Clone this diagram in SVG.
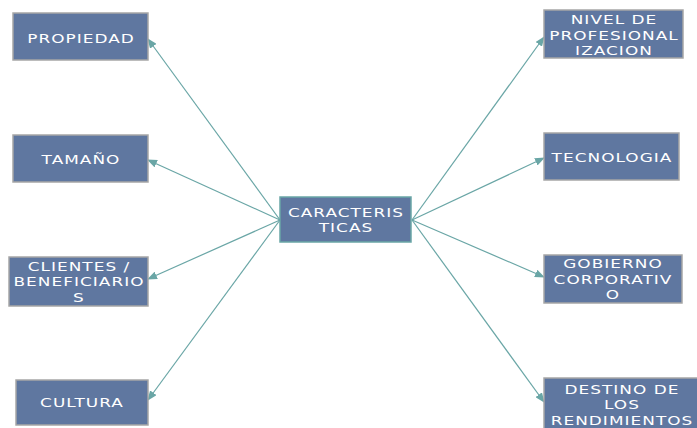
<svg xmlns="http://www.w3.org/2000/svg" width="697" height="428" viewBox="0 0 697 428">
<defs>
<marker id="ah" markerWidth="10" markerHeight="8" refX="9" refY="4" orient="auto" markerUnits="userSpaceOnUse">
<path d="M0,0 L10,4 L0,8 Z" fill="#6aa6a6"/>
</marker>
<style>
.box{fill:#5f77a0;stroke:#a6a6a6;stroke-width:1.5}
.cbox{fill:#5f77a0;stroke:#6aa6a6;stroke-width:1.5}
.t{fill:#ffffff;font-family:"DejaVu Sans",Verdana,sans-serif;font-size:13px;letter-spacing:0.8px;text-anchor:middle}
.c{stroke:#6aa6a6;stroke-width:1.2;fill:none;marker-end:url(#ah)}
</style>
</defs>
<rect width="697" height="428" fill="#ffffff"/>
<g id="connectors">
<line class="c" x1="280" y1="220" x2="148" y2="39"/>
<line class="c" x1="280" y1="220" x2="148" y2="160"/>
<line class="c" x1="280" y1="220" x2="148" y2="279"/>
<line class="c" x1="280" y1="220" x2="148" y2="400"/>
<line class="c" x1="412" y1="220" x2="544" y2="37"/>
<line class="c" x1="412" y1="220" x2="544" y2="158"/>
<line class="c" x1="412" y1="220" x2="544" y2="277"/>
<line class="c" x1="412" y1="220" x2="544" y2="402"/>
</g>
<g id="caracteristicas">
<rect class="cbox" x="280" y="197" width="131" height="45"/>
<g transform="translate(346,0) scale(1.3,1)">
<text class="t" x="0" y="217">CARACTERIS</text>
<text class="t" x="0" y="232">TICAS</text>
</g>
</g>
<g id="propiedad">
<rect class="box" x="13" y="13" width="135" height="47"/>
<g transform="translate(81,0) scale(1.3,1)"><text class="t" x="0" y="43">PROPIEDAD</text></g>
</g>
<g id="tamano">
<rect class="box" x="13" y="135" width="135" height="47"/>
<g transform="translate(81,0) scale(1.3,1)"><text class="t" x="0" y="164">TAMAÑO</text></g>
</g>
<g id="clientes">
<rect class="box" x="9" y="257" width="139" height="49"/>
<g transform="translate(79,0) scale(1.3,1)">
<text class="t" x="0" y="271">CLIENTES /</text>
<text class="t" x="0" y="286">BENEFICIARIO</text>
<text class="t" x="0" y="302">S</text>
</g>
</g>
<g id="cultura">
<rect class="box" x="16" y="380" width="132" height="45"/>
<g transform="translate(82,0) scale(1.3,1)"><text class="t" x="0" y="407">CULTURA</text></g>
</g>
<g id="nivel">
<rect class="box" x="544" y="10" width="139" height="48"/>
<g transform="translate(614,0) scale(1.3,1)">
<text class="t" x="0" y="24">NIVEL DE</text>
<text class="t" x="0" y="40">PROFESIONAL</text>
<text class="t" x="0" y="55">IZACION</text>
</g>
</g>
<g id="tecnologia">
<rect class="box" x="544" y="133" width="135" height="47"/>
<g transform="translate(612,0) scale(1.3,1)"><text class="t" x="0" y="162">TECNOLOGIA</text></g>
</g>
<g id="gobierno">
<rect class="box" x="544" y="255" width="138" height="48"/>
<g transform="translate(613,0) scale(1.3,1)">
<text class="t" x="0" y="268">GOBIERNO</text>
<text class="t" x="0" y="284">CORPORATIV</text>
<text class="t" x="0" y="299">O</text>
</g>
</g>
<g id="destino">
<rect class="box" x="544" y="378" width="155" height="52"/>
<g transform="translate(622,0) scale(1.3,1)">
<text class="t" x="0" y="394">DESTINO DE</text>
<text class="t" x="0" y="409">LOS</text>
<text class="t" x="0" y="425">RENDIMIENTOS</text>
</g>
</g>
</svg>
